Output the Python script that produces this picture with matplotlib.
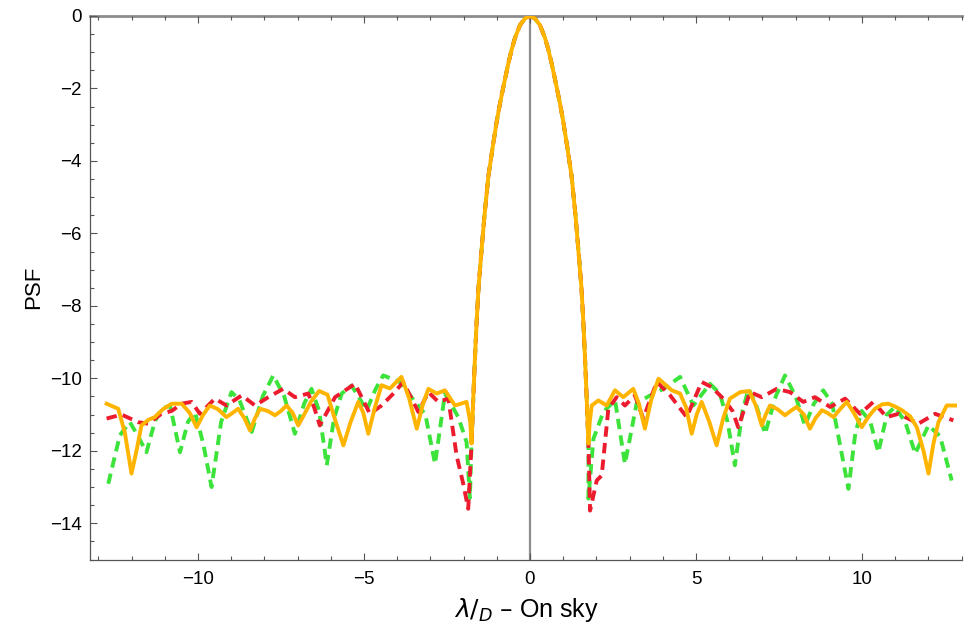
import matplotlib
matplotlib.use("Agg")
import matplotlib.pyplot as plt
from matplotlib.ticker import MultipleLocator

plt.rcParams['font.family'] = ['Liberation Sans', 'DejaVu Sans']
plt.rcParams['mathtext.fontset'] = 'dejavusans'
plt.rcParams['lines.scale_dashes'] = False

# Main lobe (shared by all three PSFs)
lobe_x = [-1.76, -1.71, -1.66, -1.61, -1.55, -1.48, -1.37, -1.25, -1.12, -1.0, -0.9, -0.8,
          -0.65, -0.55, -0.45, -0.3, -0.15, 0.0, 0.15, 0.3, 0.45, 0.55, 0.65, 0.8, 0.9,
          1.0, 1.12, 1.25, 1.37, 1.48, 1.55, 1.61, 1.66, 1.71, 1.76]
lobe_y = [-11.8, -10.6, -9.5, -8.5, -7.5, -6.7, -5.5, -4.4, -3.6, -2.9, -2.4, -1.95,
          -1.3, -0.92, -0.6, -0.25, -0.07, 0.0, -0.07, -0.25, -0.6, -0.92, -1.3, -1.95, -2.4,
          -2.9, -3.6, -4.4, -5.5, -6.7, -7.5, -8.5, -9.5, -10.6, -11.8]

# Orange (solid) side lobes
orange_left_x = [-12.75, -12.4, -12.2, -12.0, -11.85, -11.7, -11.5, -11.3, -11.05, -10.79, -10.49,
                 -10.25, -10.04, -9.84, -9.64, -9.4, -9.14, -8.95, -8.79, -8.6, -8.43, -8.28,
                 -8.13, -7.9, -7.68, -7.5, -7.33, -7.15, -6.98, -6.8, -6.6, -6.35, -6.1, -5.85,
                 -5.62, -5.4, -5.17, -5.02, -4.87, -4.67, -4.47, -4.22, -3.87, -3.64, -3.41,
                 -3.22, -3.06, -2.81, -2.56, -2.26, -1.91, -1.8]
orange_left_y = [-10.7, -10.84, -11.5, -12.63, -12.0, -11.3, -11.15, -11.07, -10.85, -10.7, -10.7,
                 -10.95, -11.35, -11.0, -10.75, -10.85, -11.07, -10.95, -10.84, -11.1, -11.44, -11.1,
                 -10.84, -10.9, -11.02, -10.9, -10.75, -10.95, -11.3, -11.0, -10.65, -10.35, -10.45, -11.2,
                 -11.85, -11.2, -10.65, -10.95, -11.53, -10.8, -10.19, -10.28, -9.96, -10.55, -11.39,
                 -10.7, -10.29, -10.42, -10.33, -10.75, -10.65, -11.2]
orange_right_x = [1.8, 1.86, 2.06, 2.31, 2.56, 2.81, 3.11, 3.28, 3.46, 3.65, 3.87, 4.27, 4.52, 4.7,
                  4.87, 5.02, 5.17, 5.4, 5.62, 5.82, 6.02, 6.33, 6.6, 6.8, 6.98, 7.1, 7.23, 7.45,
                  7.68, 7.85, 8.03, 8.25, 8.43, 8.6, 8.79, 8.95, 9.14, 9.34, 9.54, 9.75, 9.99,
                  10.2, 10.39, 10.6, 10.79, 11.0, 11.2, 11.45, 11.65, 11.85, 12.0, 12.15, 12.3,
                  12.55, 12.8]
orange_right_y = [-11.2, -10.75, -10.61, -10.75, -10.33, -10.52, -10.29, -10.7, -11.39, -10.6, -10.01,
                  -10.33, -10.42, -10.8, -11.53, -11.0, -10.65, -11.2, -11.85, -11.1, -10.56, -10.38,
                  -10.35, -10.75, -11.3, -11.0, -10.75, -10.85, -11.02, -10.9, -10.79, -11.0, -11.39,
                  -11.1, -10.88, -10.95, -11.07, -10.85, -10.65, -10.95, -11.35, -11.05, -10.84, -10.72,
                  -10.7, -10.78, -10.88, -11.05, -11.35, -12.0, -12.63, -11.8, -11.21, -10.75, -10.75]

# Red (dashed) side lobes
red_left_x = [-12.75, -12.3, -11.8, -11.5, -11.1, -10.79, -10.49, -10.19, -9.94, -9.49, -9.14,
              -8.68, -8.28, -7.88, -7.43, -7.08, -6.68, -6.5, -6.33, -5.87, -5.27, -4.82, -4.47,
              -4.07, -3.82, -3.36, -3.06, -2.76, -2.46, -2.21, -2.01, -1.86]
red_left_y = [-11.11, -11.0, -11.21, -11.25, -10.98, -10.9, -10.7, -10.65, -10.98, -10.56, -10.75,
              -10.47, -10.75, -10.52, -10.29, -10.52, -10.42, -10.8, -11.3, -10.52, -10.15, -10.98, -10.75,
              -10.38, -10.1, -10.93, -10.38, -10.65, -10.56, -12.13, -12.91, -13.6]
red_right_x = [1.81, 2.01, 2.16, 2.36, 2.61, 2.86, 3.16, 3.41, 3.82, 4.22, 4.72, 5.17, 5.47, 5.82,
               6.1, 6.27, 6.63, 6.98, 7.43, 7.83, 8.23, 8.58, 9.04, 9.49, 9.94, 10.34, 10.74, 11.1,
               11.7, 12.2, 12.75]
red_right_y = [-13.65, -12.82, -12.68, -10.84, -10.52, -10.75, -10.47, -11.11, -10.1, -10.47, -11.07,
               -10.1, -10.24, -10.56, -10.9, -11.35, -10.38, -10.52, -10.29, -10.38, -10.65, -10.52,
               -10.79, -10.56, -10.98, -10.65, -11.07, -10.98, -11.25, -10.98, -11.16]

# Green (dashed) side lobes
green_left_x = [-12.7, -12.35, -12.05, -11.8, -11.55, -11.3, -11.1, -10.84, -10.54, -10.3, -10.09,
                -9.84, -9.59, -9.3, -8.99, -8.75, -8.38, -8.05, -7.73, -7.4, -7.08, -6.8, -6.58,
                -6.35, -6.12, -5.9, -5.67, -5.37, -4.92, -4.65, -4.42, -3.92, -3.46, -3.15, -2.86,
                -2.56, -2.16, -1.91, -1.81]
green_left_y = [-12.91, -11.57, -11.21, -11.6, -12.04, -11.2, -10.84, -10.75, -12.04, -11.2, -10.93,
                -11.8, -13.0, -11.2, -10.38, -10.6, -11.48, -10.5, -9.92, -10.5, -11.53, -10.7, -10.29,
                -10.9, -12.4, -11.1, -10.42, -10.2, -10.88, -10.3, -9.92, -10.1, -10.65, -11.0, -12.36,
                -10.42, -11.07, -11.76, -13.3]
green_right_x = [1.76, 1.91, 2.21, 2.56, 2.86, 3.21, 3.56, 4.02, 4.52, 4.92, 5.42, 5.72, 5.95, 6.17,
                 6.4, 6.58, 6.8, 7.08, 7.4, 7.68, 8.0, 8.28, 8.55, 8.83, 9.1, 9.59, 9.8, 9.99, 10.25,
                 10.49, 10.75, 10.99, 11.3, 11.6, 12.0, 12.35, 12.7]
green_right_y = [-13.32, -11.67, -10.93, -10.6, -12.36, -10.7, -10.5, -10.29, -9.96, -10.75, -10.15,
                 -10.42, -11.2, -12.4, -10.9, -10.29, -10.7, -11.53, -10.5, -9.92, -10.5, -11.3, -10.7,
                 -10.33, -10.7, -13.05, -11.5, -10.9, -11.2, -12.04, -11.0, -10.79, -11.2, -12.08, -11.3,
                 -11.6, -12.82]

GREEN = '#3be33b'
RED = '#ec1c2e'
ORANGE = '#ffb400'

fig = plt.figure(figsize=(9.64, 6.35), dpi=100)
ax = fig.add_axes([90/964, (635-559.5)/635, (962-90)/964, (559.5-16)/635])

def series(lx, ly, rx, ry):
    return lx + lobe_x + rx, ly + lobe_y + ry

gx, gy = series(green_left_x, green_left_y, green_right_x, green_right_y)
rx_, ry_ = series(red_left_x, red_left_y, red_right_x, red_right_y)
ox, oy = series(orange_left_x, orange_left_y, orange_right_x, orange_right_y)

ax.axvline(0, color='#8c8c8c', lw=1.6, zorder=1)
ax.axhline(0, color='#8c8c8c', lw=2.0, zorder=1, clip_on=False)

ax.plot(gx, gy, color=GREEN, lw=2.8, dashes=(7.5, 4.5), zorder=3,
        solid_joinstyle='round', dash_joinstyle='round')
ax.plot(rx_, ry_, color=RED, lw=2.8, dashes=(7.5, 4.5), zorder=4,
        solid_joinstyle='round', dash_joinstyle='round')
ax.plot(ox, oy, color=ORANGE, lw=2.8, zorder=5, solid_joinstyle='round')

ax.set_xlim(-13.25, 13.01)
ax.set_ylim(-15, 0)

for s in ['top', 'right']:
    ax.spines[s].set_visible(False)
for s in ['left', 'bottom']:
    ax.spines[s].set_color('#555555')
    ax.spines[s].set_linewidth(0.9)

ax.xaxis.set_major_locator(MultipleLocator(5))
ax.xaxis.set_minor_locator(MultipleLocator(1))
ax.yaxis.set_major_locator(MultipleLocator(2))
ax.yaxis.set_minor_locator(MultipleLocator(0.5))
ax.tick_params(which='both', direction='in', color='#555555', width=0.8, top=True)
ax.tick_params(which='major', length=5, labelsize=13.5, pad=8)
ax.tick_params(which='minor', length=3)
ax.tick_params(axis='y', pad=6)

ax.set_ylabel('PSF', fontsize=16, labelpad=4)
ax.set_xlabel(r'$\lambda/_{D}$ – On sky', fontsize=18, labelpad=6)

fig.savefig('out.png', dpi=100)
